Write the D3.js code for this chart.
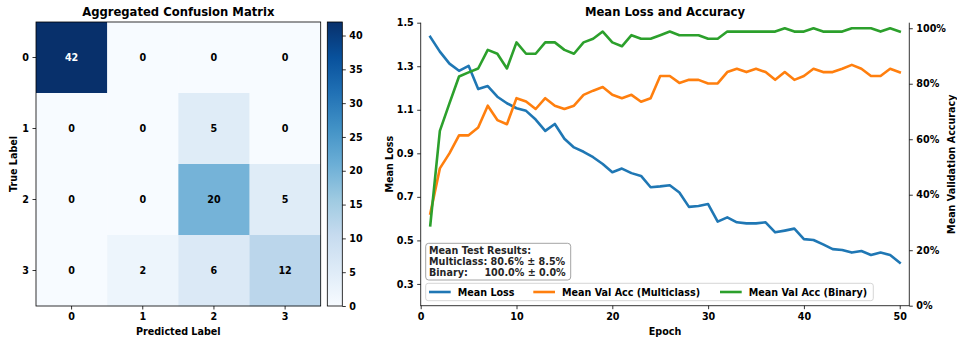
<!DOCTYPE html>
<html><head><meta charset="utf-8">
<script src="https://cdn.jsdelivr.net/npm/d3@7"></script>
<style>
html,body{margin:0;padding:0;background:#fff;}
svg{display:block;font-family:"DejaVu Sans",sans-serif;font-weight:bold;}
</style></head>
<body><svg id="c" width="957" height="338"></svg>
<script>
// ---------------- data ----------------
const predLabels = ["0","1","2","3"];
const trueLabels = ["0","1","2","3"];
const confusion = [
  [42, 0, 0, 0],
  [0, 0, 5, 0],
  [0, 0, 20, 5],
  [0, 2, 6, 12]
];
const colorbarTicks = [0,5,10,15,20,25,30,35,40];

const epochs = [1,2,3,4,5,6,7,8,9,10,11,12,13,14,15,16,17,18,19,20,21,22,23,24,25,26,27,28,29,30,31,32,33,34,35,36,37,38,39,40,41,42,43,44,45,46,47,48,49,50];
const meanLoss = [1.435,1.367,1.312,1.279,1.302,1.195,1.209,1.160,1.130,1.107,
                  1.095,1.055,1.003,1.035,0.967,0.927,0.907,0.882,0.851,0.813,
                  0.830,0.809,0.796,0.744,0.748,0.753,0.720,0.654,0.658,0.667,
                  0.586,0.606,0.583,0.578,0.578,0.583,0.537,0.545,0.554,0.506,
                  0.502,0.482,0.460,0.456,0.444,0.451,0.433,0.444,0.433,0.398];
const accMulti = [0.332,0.495,0.549,0.614,0.614,0.642,0.721,0.669,0.654,0.748,
                  0.736,0.709,0.748,0.721,0.709,0.721,0.760,0.775,0.788,0.760,
                  0.748,0.760,0.735,0.748,0.828,0.828,0.803,0.814,0.814,0.801,
                  0.801,0.842,0.854,0.842,0.854,0.842,0.814,0.842,0.814,0.828,
                  0.854,0.842,0.842,0.854,0.868,0.854,0.828,0.828,0.854,0.841];
const accBinary = [0.290,0.630,0.729,0.826,0.841,0.855,0.922,0.908,0.855,0.949,
                   0.908,0.908,0.949,0.949,0.922,0.908,0.949,0.962,0.988,0.949,
                   0.935,0.975,0.962,0.962,0.975,0.988,0.975,0.975,0.975,0.962,
                   0.962,0.988,0.988,0.988,0.988,0.988,0.988,1.000,0.988,0.988,
                   1.000,0.988,0.988,0.988,1.000,1.000,1.000,0.988,1.000,0.988];
const lossTicks = [0.3,0.5,0.7,0.9,1.1,1.3,1.5];
const accTicks = [0,0.2,0.4,0.6,0.8,1.0];
const epochTicks = [0,10,20,30,40,50];
const seriesNames = ["Mean Loss","Mean Val Acc (Multiclass)","Mean Val Acc (Binary)"];
const seriesColors = ["#1f77b4","#ff7f0e","#2ca02c"];
const resultLines = ["Mean Test Results:","Multiclass: 80.6% \u00b1 8.5%","Binary:     100.0% \u00b1 0.0%"];

// ---------------- setup ----------------
const svg = d3.select("#c");
const FS = 9.6;
const blues = ["#f7fbff","#deebf7","#c6dbef","#9ecae1","#6baed6","#4292c6","#2171b5","#08519c","#08306b"];
const vmax = 42;
const color = d3.scaleLinear()
  .domain(blues.map((_, i) => i * vmax / (blues.length - 1)))
  .range(blues).interpolate(d3.interpolateRgb).clamp(true);

function styleAxis(g){
  g.selectAll("text").attr("font-size", FS).attr("font-family","DejaVu Sans").attr("font-weight","bold").attr("fill","#000");
  g.selectAll("line").attr("stroke","#000").attr("stroke-width",0.8);
  g.select(".domain").remove();
}

// ---------------- heatmap ----------------
const hx = d3.scaleBand().domain(predLabels).range([36, 320.7]);
const hy = d3.scaleBand().domain(trueLabels).range([22, 306]);
const hm = svg.append("g");
confusion.forEach((row, i) => row.forEach((v, j) => {
  hm.append("rect").attr("x", hx(predLabels[j])).attr("y", hy(trueLabels[i]))
    .attr("width", hx.bandwidth()+0.3).attr("height", hy.bandwidth()+0.3)
    .attr("fill", color(v));
}));
confusion.forEach((row, i) => row.forEach((v, j) => {
  hm.append("text").attr("x", hx(predLabels[j]) + hx.bandwidth()/2)
    .attr("y", hy(trueLabels[i]) + hy.bandwidth()/2).attr("dy","0.36em")
    .attr("text-anchor","middle").attr("font-size", FS)
    .attr("fill", v > vmax/2 ? "#fff" : "#000").text(v);
}));
hm.append("rect").attr("x",36).attr("y",22).attr("width",284.7).attr("height",284)
  .attr("fill","none").attr("stroke","#000").attr("stroke-width",0.8);
svg.append("g").attr("transform","translate(0,306)")
  .call(d3.axisBottom(hx).tickSize(3.5).tickPadding(3.5)).call(styleAxis);
svg.append("g").attr("transform","translate(36,0)")
  .call(d3.axisLeft(hy).tickSize(3.5).tickPadding(3.5)).call(styleAxis);
svg.append("text").attr("x",178.3).attr("y",15.5).attr("text-anchor","middle")
  .attr("font-size",11.6).text("Aggregated Confusion Matrix");
svg.append("text").attr("x",178.3).attr("y",334.5).attr("text-anchor","middle")
  .attr("font-size",FS).text("Predicted Label");
svg.append("text").attr("transform","translate(17.3,164) rotate(-90)").attr("text-anchor","middle")
  .attr("font-size",FS).text("True Label");

// colorbar
const cbScale = d3.scaleLinear().domain([0, vmax]).range([306, 22]);
const defs = svg.append("defs");
const grad = defs.append("linearGradient").attr("id","cbg").attr("x1",0).attr("y1",1).attr("x2",0).attr("y2",0);
blues.forEach((c, i) => grad.append("stop").attr("offset", i/(blues.length-1)).attr("stop-color", c));
svg.append("rect").attr("x",327.3).attr("y",22).attr("width",15).attr("height",284)
  .attr("fill","url(#cbg)").attr("stroke","#000").attr("stroke-width",0.8);
svg.append("g").attr("transform","translate(342.3,0)")
  .call(d3.axisRight(cbScale).tickValues(colorbarTicks).tickSize(3.5).tickPadding(3.5)).call(styleAxis);

// ---------------- line chart ----------------
const X0 = 420.7, X1 = 909.3, Y0 = 22.7, Y1 = 305.7;
const x = d3.scaleLinear().domain([0, 51]).range([X0, X1]);
const yL = d3.scaleLinear().domain([0.2, 1.5]).range([Y1, Y0]);
const yR = d3.scaleLinear().domain([0, 1.02]).range([Y1, Y0]);

const lc = svg.append("g");
const lineL = d3.line().x((d,i) => x(epochs[i])).y(d => yL(d));
const lineR = d3.line().x((d,i) => x(epochs[i])).y(d => yR(d));
lc.append("path").attr("d", lineL(meanLoss)).attr("fill","none").attr("stroke",seriesColors[0])
  .attr("stroke-width",2.6).attr("stroke-linejoin","round").attr("stroke-linecap","square");
lc.append("path").attr("d", lineR(accMulti)).attr("fill","none").attr("stroke",seriesColors[1])
  .attr("stroke-width",2.6).attr("stroke-linejoin","round").attr("stroke-linecap","square");
lc.append("path").attr("d", lineR(accBinary)).attr("fill","none").attr("stroke",seriesColors[2])
  .attr("stroke-width",2.6).attr("stroke-linejoin","round").attr("stroke-linecap","square");

// spines
svg.append("line").attr("x1",X0).attr("x2",X0).attr("y1",Y0).attr("y2",Y1).attr("stroke","#000").attr("stroke-width",0.8);
svg.append("line").attr("x1",X1).attr("x2",X1).attr("y1",Y0).attr("y2",Y1).attr("stroke","#000").attr("stroke-width",0.8);
svg.append("line").attr("x1",X0-0.4).attr("x2",X1+0.4).attr("y1",Y1).attr("y2",Y1).attr("stroke","#000").attr("stroke-width",0.8);

svg.append("g").attr("transform",`translate(0,${Y1})`)
  .call(d3.axisBottom(x).tickValues(epochTicks).tickSize(3.5).tickPadding(3.5)).call(styleAxis);
svg.append("g").attr("transform",`translate(${X0},0)`)
  .call(d3.axisLeft(yL).tickValues(lossTicks).tickFormat(d3.format(".1f")).tickSize(3.5).tickPadding(3.5)).call(styleAxis);
svg.append("g").attr("transform",`translate(${X1},0)`)
  .call(d3.axisRight(yR).tickValues(accTicks).tickFormat(d3.format(".0%")).tickSize(3.5).tickPadding(3.5)).call(styleAxis);

svg.append("text").attr("x",665).attr("y",15.5).attr("text-anchor","middle")
  .attr("font-size",11.6).text("Mean Loss and Accuracy");
svg.append("text").attr("x",665).attr("y",334.5).attr("text-anchor","middle")
  .attr("font-size",FS).text("Epoch");
svg.append("text").attr("transform","translate(392.6,164.2) rotate(-90)").attr("text-anchor","middle")
  .attr("font-size",FS).text("Mean Loss");
svg.append("text").attr("transform","translate(954.6,164.2) rotate(-90)").attr("text-anchor","middle")
  .attr("font-size",FS).text("Mean Validation Accuracy");

// results box
svg.append("rect").attr("x",425.7).attr("y",243.3).attr("width",145).attr("height",36.7)
  .attr("rx",3).attr("fill","#fff").attr("fill-opacity",0.8).attr("stroke","#9a9a9a").attr("stroke-width",0.9);
const rb = svg.append("text").attr("font-size",FS).attr("fill","#262626").style("white-space","pre");
resultLines.forEach((t, i) => rb.append("tspan").attr("x",429).attr("y",254.4 + i*10.95).text(t));

// legend
svg.append("rect").attr("x",425.7).attr("y",283.3).attr("width",447.6).attr("height",17.4)
  .attr("rx",2.5).attr("fill","#fff").attr("fill-opacity",0.8).attr("stroke","#cccccc").attr("stroke-width",0.8);
const legX = [429, 533.3, 720];
seriesNames.forEach((n, i) => {
  svg.append("line").attr("x1",legX[i]).attr("x2",legX[i]+21.7).attr("y1",292).attr("y2",292)
    .attr("stroke",seriesColors[i]).attr("stroke-width",2.6);
  svg.append("text").attr("x",legX[i]+28.7).attr("y",295.6).attr("font-size",FS).text(n);
});
</script></body></html>
